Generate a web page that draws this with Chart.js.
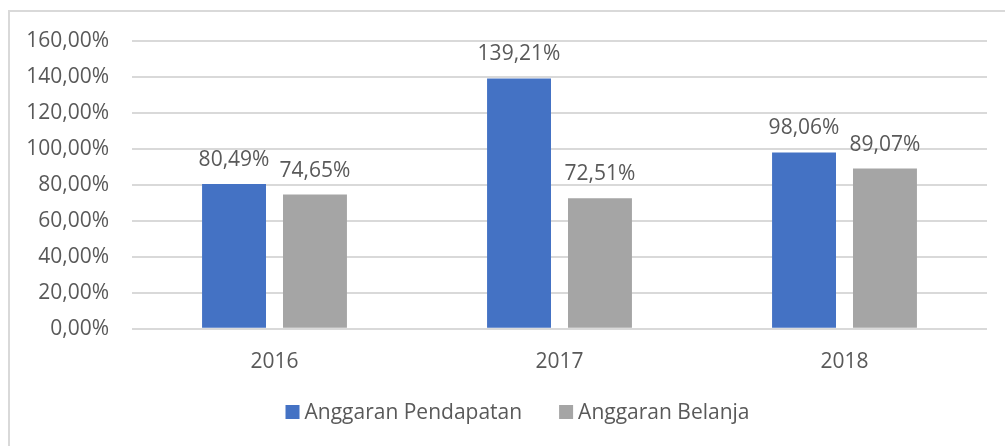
<!DOCTYPE html>
<html><head><meta charset="utf-8">
<script src="https://cdn.jsdelivr.net/npm/chart.js@4/dist/chart.umd.min.js"></script>
<style>
html,body{margin:0;padding:0;background:#fff;width:1005px;height:446px;overflow:hidden}
#wrap{position:absolute;left:8px;top:10px;width:997px;height:436px;border-left:2px solid #d9d9d9;border-top:2px solid #d9d9d9}
canvas{display:block}
</style></head><body>
<div id="wrap"><canvas id="c" width="995" height="434"></canvas></div>
<script>
const categories = ['2016','2017','2018'];
const seriesNames = ['Anggaran Pendapatan','Anggaran Belanja'];
const pendapatan = [80.49, 139.21, 98.06];
const belanja = [74.65, 72.51, 89.07];
const yMin = 0, yMax = 160, yStep = 20;

const FONT = "'Open Sans', sans-serif";
const TXT = '#595959';
const fmt = v => v.toFixed(2).replace('.', ',') + '%';

const labelPlugin = {
  id: 'barLabels',
  afterDatasetsDraw(chart) {
    const ctx = chart.ctx;
    ctx.save();
    ctx.font = '21px ' + FONT;
    ctx.fillStyle = TXT;
    ctx.textAlign = 'center';
    ctx.textBaseline = 'alphabetic';
    chart.data.datasets.forEach((ds, i) => {
      const meta = chart.getDatasetMeta(i);
      meta.data.forEach((el, j) => {
        ctx.fillText(fmt(ds.data[j]), el.x, el.y - 18);
      });
    });
    ctx.restore();
  }
};

const legendPlugin = {
  id: 'customLegend',
  afterDraw(chart) {
    const ctx = chart.ctx;
    ctx.save();
    ctx.font = '21px ' + FONT;
    ctx.textBaseline = 'middle';
    ctx.textAlign = 'left';
    const box = 14, gap = 5, itemGap = 37;
    const items = chart.data.datasets.map(ds => ({text: ds.label, color: ds.backgroundColor, w: box + gap + ctx.measureText(ds.label).width}));
    const total = items.reduce((a, it) => a + it.w, 0) + itemGap * (items.length - 1);
    let x = chart.width / 2 + 10 - total / 2;
    const y = 400;
    items.forEach(it => {
      ctx.fillStyle = it.color;
      ctx.fillRect(x, y - box / 2, box, box);
      ctx.fillStyle = TXT;
      ctx.fillText(it.text, x + box + gap, y + 1);
      x += it.w + itemGap;
    });
    ctx.restore();
  }
};

new Chart(document.getElementById('c'), {
  type: 'bar',
  data: {
    labels: categories,
    datasets: [
      {label: seriesNames[0], data: pendapatan, backgroundColor: '#4472C4'},
      {label: seriesNames[1], data: belanja, backgroundColor: '#A5A5A5'}
    ]
  },
  options: {
    responsive: false,
    animation: false,
    devicePixelRatio: 1,
    layout: {padding: {top: 29, right: 18, left: 0, bottom: 50}},
    datasets: {bar: {categoryPercentage: 0.568, barPercentage: 0.79}},
    scales: {
      x: {
        grid: {display: false, drawTicks: false},
        border: {display: false},
        ticks: {color: TXT, font: {family: FONT, size: 21}, padding: 21}
      },
      y: {
        min: yMin, max: yMax,
        grid: {color: '#d9d9d9', lineWidth: 2, drawTicks: false},
        border: {display: false},
        ticks: {stepSize: yStep, color: TXT, font: {family: FONT, size: 21}, padding: 23, callback: v => fmt(v)},
        afterFit(s) { s.width = 122; s.paddingTop = 0; s.paddingBottom = 0; }
      }
    },
    plugins: {
      legend: {display: false},
      tooltip: {enabled: false}
    }
  },
  plugins: [labelPlugin, legendPlugin]
});
</script>
</body></html>
